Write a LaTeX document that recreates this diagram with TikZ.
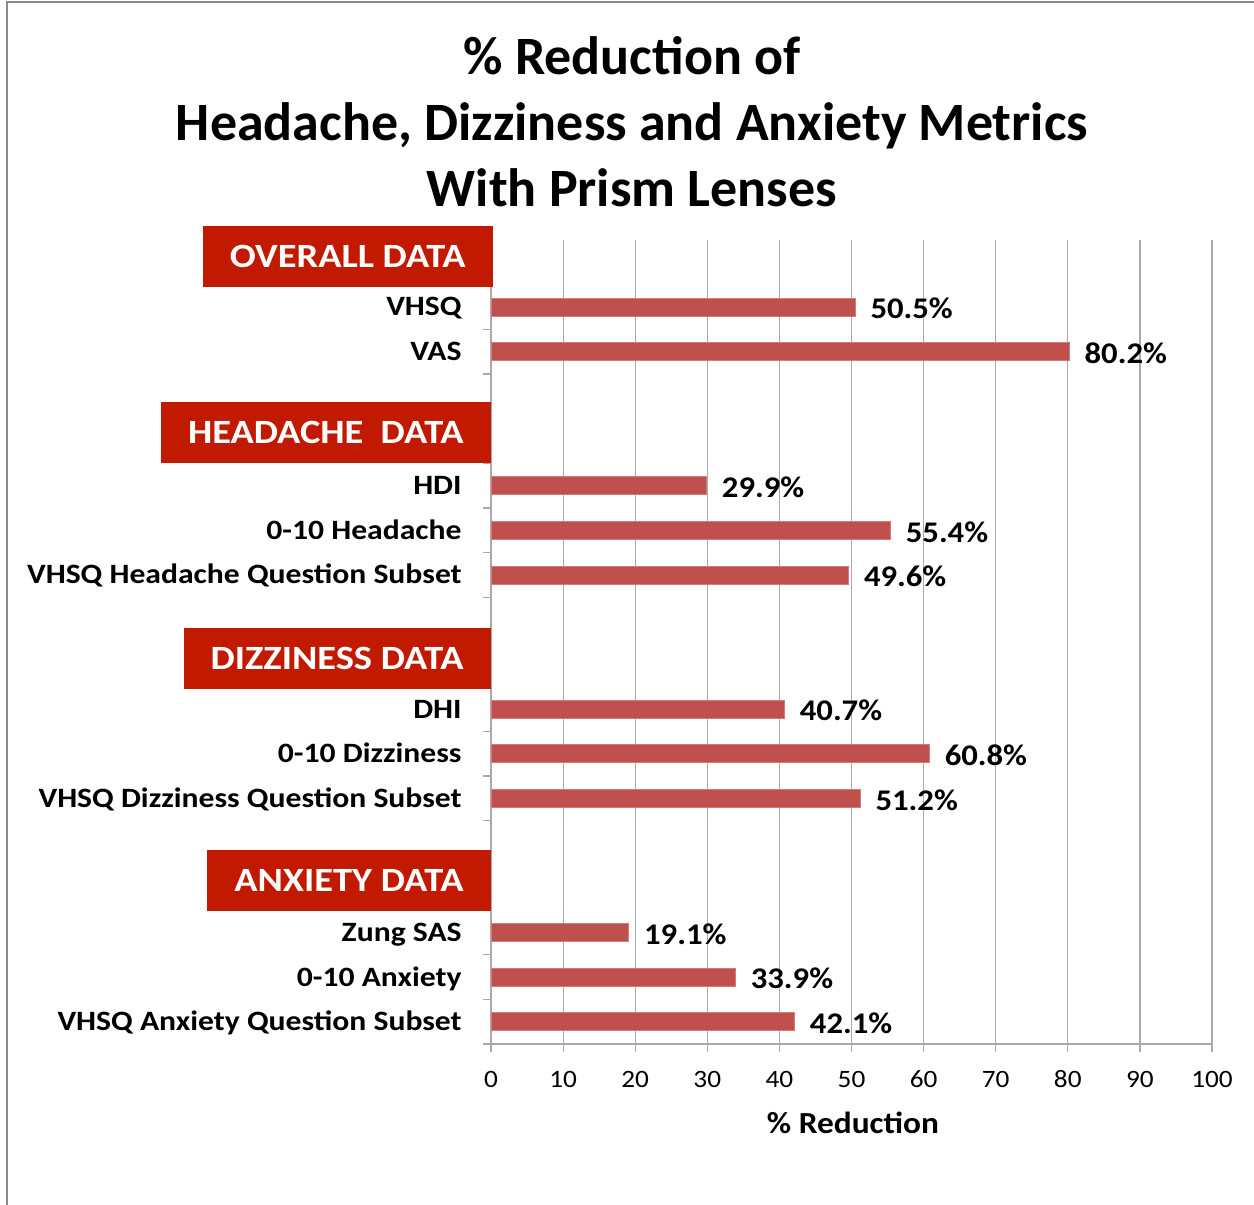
\documentclass[tikz,border=0pt]{standalone}
\usepackage{fontspec}
\setmainfont{Carlito}
\newfontfamily\widefont[FakeStretch=1.13]{Carlito}
\newfontfamily\valfont[FakeStretch=1.09]{Carlito}
\usetikzlibrary{positioning}
\definecolor{barred}{RGB}{192,80,77}
\definecolor{hdrred}{RGB}{194,26,0}
\definecolor{gridgray}{RGB}{170,170,170}
\definecolor{framegray}{RGB}{140,140,140}

\begin{document}
\begin{tikzpicture}[x=0.5pt,y=-0.5pt,
  title/.style={font=\fontsize{27}{33}\selectfont\bfseries,anchor=base,inner sep=0pt},
  hdr/.style={fill=hdrred,text=white,font=\widefont\fontsize{17}{20}\selectfont\bfseries,
              inner xsep=13.5pt,minimum height=30.5pt,anchor=east},
  catlabel/.style={font=\widefont\fontsize{14}{17}\selectfont\bfseries,anchor=base east,inner sep=0pt},
  vallabel/.style={font=\valfont\fontsize{15}{18}\selectfont\bfseries,anchor=base west,inner sep=0pt},
  ticklabel/.style={font=\valfont\fontsize{12.5}{15}\selectfont,anchor=base,inner sep=0pt},
  bar/.style={fill=barred,draw=barred!75!white,line width=0.4pt},
  gridline/.style={draw=gridgray,line width=0.6pt}
]
\useasboundingbox (0,0) rectangle (1254,1205);
% frame
\draw[framegray,line width=1.2pt] (7,1210) -- (7,2) -- (1260,2);

% title
\node[title] (t1) at (632,74)  {\% Reduction of};
\node[title] (t2) at (632,140) {Headache, Dizziness and Anxiety Metrics};
\node[title] (t3) at (632,206) {With Prism Lenses};

% grid and axes
\foreach \v in {10,20,...,100}
  \draw[gridline] (491+7.21*\v,240) -- (491+7.21*\v,1044);
\draw[gridline] (491,240) -- (491,1044);
\draw[gridline] (483,1044) -- (1212,1044);
\foreach \i in {0,...,17}
  \draw[gridline] (483,240+44.67*\i) -- (491,240+44.67*\i);
\foreach \v in {0,10,...,100}{
  \draw[gridline] (491+7.21*\v,1044) -- (491+7.21*\v,1052);
  \node[ticklabel] (x\v) at (491+7.21*\v,1087) {\v};
}
\node[font=\valfont\fontsize{15.3}{18}\selectfont\bfseries,anchor=base,inner sep=0pt]
  (xlabel) at (853,1133) {\% Reduction};

% bars: category index / value / label
\foreach \i/\v/\lab in {1/50.5/VHSQ, 2/80.2/VAS,
    5/29.9/HDI, 6/55.4/0-10 Headache, 7/49.6/VHSQ Headache Question Subset,
    10/40.7/DHI, 11/60.8/0-10 Dizziness, 12/51.2/VHSQ Dizziness Question Subset,
    15/19.1/Zung SAS, 16/33.9/0-10 Anxiety, 17/42.1/VHSQ Anxiety Question Subset}{
  \draw[bar] (491,240+44.67*\i+13.3) rectangle (491+7.21*\v,240+44.67*\i+31.3);
  \node[catlabel] (c\i) at (462,240+44.67*\i+31.3) {\lab};
  \node[vallabel] (v\i) at (491+7.21*\v+15,240+44.67*\i+34) {\v\%};
}

% section headers
\node[hdr] (overall)  at (493,256.5) {OVERALL DATA};
\node[hdr] (headache) at (491,432)   {HEADACHE\ \ DATA};
\node[hdr] (dizzy)    at (491,658.5) {DIZZINESS DATA};
\node[hdr] (anxiety)  at (491,880.5) {ANXIETY DATA};
\end{tikzpicture}
\end{document}
